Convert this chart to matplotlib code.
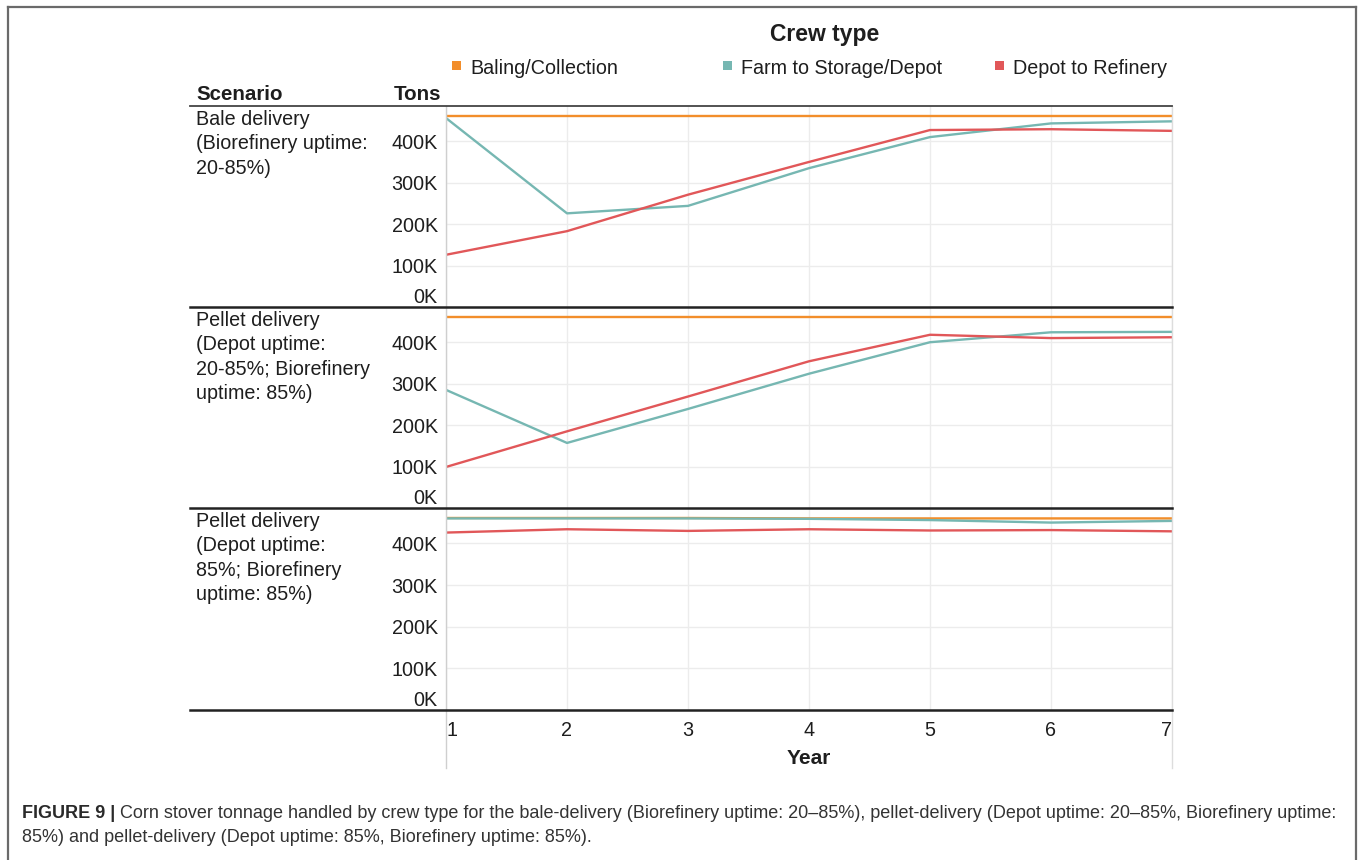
import matplotlib
matplotlib.use("Agg")
import matplotlib.pyplot as plt
from matplotlib.lines import Line2D

plt.rcParams["font.family"] = ["Liberation Sans", "DejaVu Sans"]

W, H = 1362, 860

years = [1, 2, 3, 4, 5, 6, 7]
crew_types = ["Baling/Collection", "Farm to Storage/Depot", "Depot to Refinery"]
crew_colors = ["#F28E2B", "#76B7B2", "#E15759"]

scenarios = [
    "Bale delivery\n(Biorefinery uptime:\n20-85%)",
    "Pellet delivery\n(Depot uptime:\n20-85%; Biorefinery\nuptime: 85%)",
    "Pellet delivery\n(Depot uptime:\n85%; Biorefinery\nuptime: 85%)",
]

# tons per year, in thousands
bale_baling = [460, 460, 460, 460, 460, 460, 460]
bale_farm = [456, 226, 244, 335, 410, 443, 448]
bale_depot = [126, 183, 271, 350, 427, 429, 425]

pellet_var_baling = [460, 460, 460, 460, 460, 460, 460]
pellet_var_farm = [285, 157, 239, 324, 400, 424, 425]
pellet_var_depot = [99, 185, 269, 354, 418, 410, 412]

pellet_85_baling = [461, 461, 461, 460, 460, 460, 460]
pellet_85_farm = [460, 460, 460, 459, 456, 450, 454]
pellet_85_depot = [426, 434, 430, 434, 431, 432, 429]

panel_series = [
    [bale_baling, bale_farm, bale_depot],
    [pellet_var_baling, pellet_var_farm, pellet_var_depot],
    [pellet_85_baling, pellet_85_farm, pellet_85_depot],
]

y_ticks = [0, 100, 200, 300, 400]
y_tick_labels = ["0K", "100K", "200K", "300K", "400K"]

caption_bold = "FIGURE 9 |"
caption_line1 = ("Corn stover tonnage handled by crew type for the bale-delivery (Biorefinery uptime: 20\u201385%), "
                 "pellet-delivery (Depot uptime: 20\u201385%, Biorefinery uptime:")
caption_line2 = "85%) and pellet-delivery (Depot uptime: 85%, Biorefinery uptime: 85%)."


def fx(x):
    return x / W


def fy(y):
    return 1 - y / H


fig = plt.figure(figsize=(W / 100, H / 100), dpi=100)
fig.patch.set_facecolor("white")

x_left, x_right = 446, 1172
panel_edges = [106, 307, 508, 710]
grid_col = "#ececec"
text_col = "#1e1e1e"
fs_body = 14.2

axes = []
for i in range(3):
    top, bottom = panel_edges[i], panel_edges[i + 1]
    ax = fig.add_axes([fx(x_left), fy(bottom), fx(x_right - x_left), (bottom - top) / H])
    for series, col in zip(panel_series[i], crew_colors):
        ax.plot(years, series, color=col, lw=1.7, solid_capstyle="butt", zorder=3)
    ax.set_xlim(1, 7)
    ax.set_ylim(0, 485)
    ax.set_yticks(y_ticks)
    ax.set_yticklabels(y_tick_labels, fontsize=fs_body, color=text_col)
    ax.set_xticks(years)
    ax.grid(True, color=grid_col, lw=1.0, zorder=0)
    ax.tick_params(length=0, pad=6)
    for s in ax.spines.values():
        s.set_visible(False)
    for lab in ax.get_yticklabels():
        if lab.get_text() == "0K":
            lab.set_verticalalignment("bottom")
    if i < 2:
        ax.set_xticklabels([])
    else:
        ax.set_xticklabels([str(y) for y in years], fontsize=fs_body, color=text_col)
        labs = ax.get_xticklabels()
        labs[0].set_horizontalalignment("left")
        labs[-1].set_horizontalalignment("right")
        ax.tick_params(axis="x", pad=8)
    axes.append(ax)

    # scenario label
    fig.text(fx(196), fy(top + 4), scenarios[i], ha="left", va="top",
             fontsize=fs_body, color=text_col, linespacing=1.36)

# vertical axis rules
fig.add_artist(Line2D([fx(x_left), fx(x_left)], [fy(106), fy(768)], color="#cfcfcf", lw=1.0))
fig.add_artist(Line2D([fx(x_right), fx(x_right)], [fy(106), fy(768)], color="#dddddd", lw=1.0))

# row separators
fig.add_artist(Line2D([fx(190), fx(x_right)], [fy(106), fy(106)], color="#444444", lw=1.3))
for y in panel_edges[1:]:
    fig.add_artist(Line2D([fx(190), fx(x_right)], [fy(y), fy(y)], color="#222222", lw=1.8))

# headers
fig.text(fx(196), fy(95), "Scenario", ha="left", va="center", fontsize=14.8,
         fontweight="bold", color=text_col)
fig.text(fx(441), fy(95), "Tons", ha="right", va="center", fontsize=14.8,
         fontweight="bold", color=text_col)
fig.text(fx(809), fy(758), "Year", ha="center", va="center", fontsize=15,
         fontweight="bold", color=text_col)

# legend
fig.text(fx(825), fy(35), "Crew type", ha="center", va="center", fontsize=16.5,
         fontweight="bold", color=text_col)
legend_x = [452, 723, 995]
for lx, name, col in zip(legend_x, crew_types, crew_colors):
    fig.patches.append(plt.Rectangle((fx(lx), fy(70)), 9 / W, 9 / H, transform=fig.transFigure,
                                     facecolor=col, edgecolor="none"))
    fig.text(fx(lx + 18), fy(68), name, ha="left", va="center", fontsize=fs_body, color=text_col)

# outer frame (open at the bottom)
frame_col = "#6a6a6a"
fig.add_artist(Line2D([fx(7.5), fx(7.5)], [fy(6.5), 0], color=frame_col, lw=1.6))
fig.add_artist(Line2D([fx(1355.5), fx(1355.5)], [fy(6.5), 0], color=frame_col, lw=1.6))
fig.add_artist(Line2D([fx(7.5), fx(1355.5)], [fy(6.5), fy(6.5)], color=frame_col, lw=1.6))

# caption
renderer = fig.canvas.get_renderer()
cap_fs = 13.0
t_bold = fig.text(fx(22), fy(813), caption_bold, ha="left", va="center", fontsize=cap_fs,
                  fontweight="bold", color="#2a2a2a")
bb = t_bold.get_window_extent(renderer=renderer)
fig.text(fx(bb.x1 + 5), fy(813), caption_line1, ha="left", va="center", fontsize=cap_fs,
         color="#333333")
fig.text(fx(22), fy(837), caption_line2, ha="left", va="center", fontsize=cap_fs,
         color="#333333")

fig.savefig("out.png", dpi=100, facecolor="white")
